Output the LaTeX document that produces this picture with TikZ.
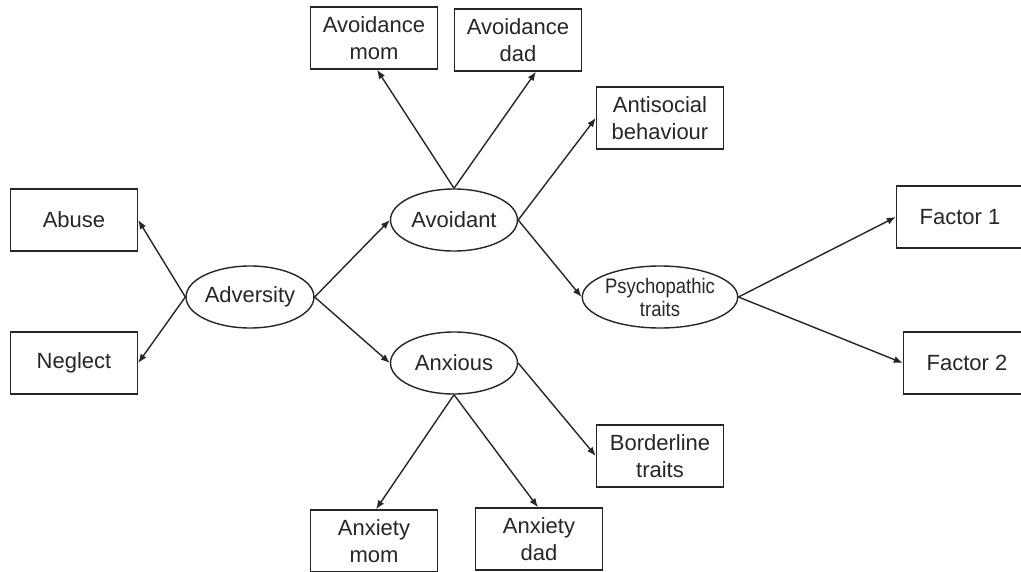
\documentclass[tikz,border=0pt]{standalone}
\usepackage{fontspec}
\setmainfont{Liberation Sans}
\newfontfamily\condfont[FakeStretch=0.88]{Liberation Sans}
\usetikzlibrary{shapes.geometric,arrows.meta}
\begin{document}
\begin{tikzpicture}[x=1pt,y=-1pt,
  box/.style={draw=black!85,line width=1.4pt,rectangle,minimum width=127pt,minimum height=62pt,inner sep=0pt,align=center,font=\fontsize{22}{27}\selectfont,text=black!85},
  oval/.style={draw=black!85,line width=1.4pt,ellipse,minimum width=127pt,minimum height=62pt,inner sep=0pt,align=center,font=\fontsize{22}{27}\selectfont,text=black!85},
  conn/.style={draw=black!85,line width=1.4pt,-{Latex[length=9pt,width=7pt]}}]
\useasboundingbox (0,0) rectangle (1021,571);
\clip (0,0) rectangle (1021,571);
\fill[white] (0,0) rectangle (1021,571);
% nodes
\node[box] (abuse) at (74,220) {Abuse};
\node[box] (neglect) at (74,363) {Neglect};
\node[oval] (adv) at (250,297) {Adversity};
\node[oval] (avoid) at (454,220) {Avoidant};
\node[oval] (anx) at (454,363) {Anxious};
\node[oval,font=\condfont\fontsize{21}{23}\selectfont] (psy) at (660,297) {Psychopathic\\traits};
\node[box] (avm) at (374,38) {Avoidance\\mom};
\node[box] (avd) at (518,40) {Avoidance\\dad};
\node[box] (anti) at (660,118) {Antisocial\\behaviour};
\node[box] (f1) at (960,217) {Factor 1};
\node[box] (f2) at (967,363) {Factor 2};
\node[box] (bord) at (660,456) {Borderline\\traits};
\node[box] (axm) at (374,541) {Anxiety\\mom};
\node[box] (axd) at (539,539) {Anxiety\\dad};
% connectors
\draw[conn] (adv.west) -- (abuse.east);
\draw[conn] (adv.west) -- (neglect.east);
\draw[conn] (adv.east) -- (avoid.west);
\draw[conn] (adv.east) -- (anx.west);
\draw[conn] (avoid.north) -- ([xshift=3pt]avm.south);
\draw[conn] (avoid.north) -- ([xshift=18pt]avd.south);
\draw[conn] (avoid.east) -- (anti.west);
\draw[conn] (avoid.east) -- (psy.west);
\draw[conn] (psy.east) -- (f1.west);
\draw[conn] (psy.east) -- (f2.west);
\draw[conn] (anx.east) -- (bord.west);
\draw[conn] (anx.south) -- ([xshift=2pt]axm.north);
\draw[conn] (anx.south) -- ([xshift=-1pt]axd.north);
\end{tikzpicture}
\end{document}
